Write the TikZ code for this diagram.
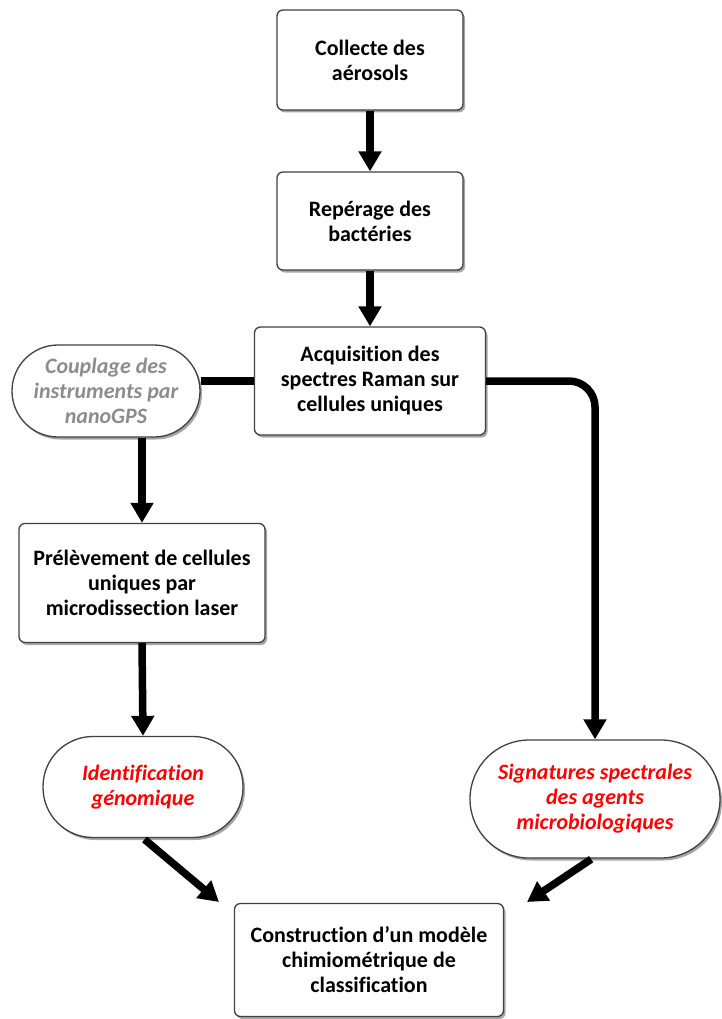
\documentclass[tikz,border=0pt]{standalone}
\usepackage{fontspec}
\setmainfont{Carlito}[Ligatures=NoCommon]
\usetikzlibrary{arrows.meta,shadows,calc}

\definecolor{edge}{HTML}{404040}
\definecolor{softgray}{HTML}{8C8C8C}

\tikzset{
  base/.style={draw=edge, line width=1.3pt, fill=white, align=center,
    font=\fontsize{22}{25}\selectfont\bfseries, inner sep=2pt,
    drop shadow={shadow xshift=2pt, shadow yshift=-2.5pt, opacity=0.35, fill=black}},
  stepbox/.style={base, rounded corners=6pt},
  pill/.style={base, font=\fontsize{22}{25}\selectfont\bfseries\itshape},
  flow/.style={line width=7.5pt, draw=black, -{Triangle[length=20pt,width=22pt]}},
  link/.style={line width=7.5pt, draw=black},
}

\begin{document}
\begin{tikzpicture}[x=1pt, y=-1pt]
  \useasboundingbox (0,0) rectangle (721,1019);

  % main column
  \node[stepbox, minimum width=186pt, minimum height=100pt] (collect) at (370,60)
    {Collecte des\\a\'erosols};
  \node[stepbox, minimum width=186pt, minimum height=98pt] (locate) at (370,221)
    {Rep\'erage des\\bact\'eries};
  \node[stepbox, minimum width=231pt, minimum height=108pt] (raman) at (370,381)
    {Acquisition des\\spectres Raman sur\\cellules uniques};

  % left branch
  \node[pill, rounded corners=46pt, minimum width=188pt, minimum height=92pt,
        text=softgray] (gps) at (106,391)
    {Couplage des\\instruments par\\nanoGPS};
  \node[stepbox, minimum width=246pt, minimum height=119pt] (dissect) at (142,583)
    {Pr\'el\`evement de cellules\\uniques par\\microdissection laser};
  \node[pill, rounded corners=50pt, minimum width=200pt, minimum height=101pt,
        text=red] (genome) at (143,787)
    {Identification\\g\'enomique};

  % right branch
  \node[pill, rounded corners=59pt, minimum width=250pt, minimum height=118pt,
        text=red] (spectra) at (595,799)
    {Signatures spectrales\\des agents\\microbiologiques};

  % bottom
  \node[stepbox, minimum width=269pt, minimum height=113pt] (model) at (369,960)
    {Construction d'un mod\`ele\\chimiom\'etrique de\\classification};

  \coordinate (tipL) at (219,902);
  \coordinate (tipR) at (527,902);

  % connectors
  \draw[flow] (collect.south) -- (locate.north);
  \draw[flow] (locate.south) -- (raman.north);
  \draw[link] (raman.west) -- (raman.west -| gps.east);
  \draw[flow, rounded corners=26pt] (raman.east) -| (spectra.north);
  \draw[flow] (dissect.north |- gps.south) -- (dissect.north);
  \draw[flow] (dissect.south) -- (genome.north);
  \draw[flow, shorten <=2pt] (genome.south) -- (tipL);
  \draw[flow, shorten <=1pt] ($(spectra.south)+(-3,0)$) -- (tipR);
\end{tikzpicture}
\end{document}
